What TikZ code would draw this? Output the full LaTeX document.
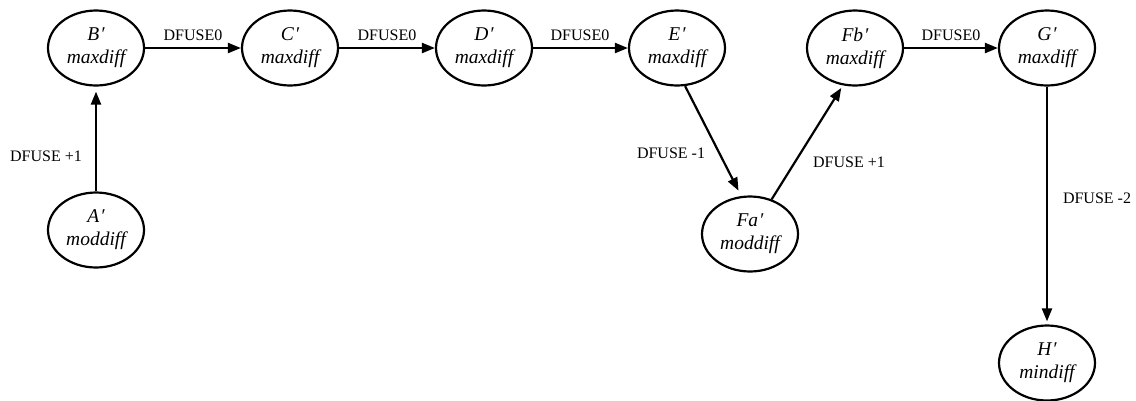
\documentclass[tikz,border=0pt]{standalone}
\usepackage{fontspec}
\setmainfont{Liberation Serif}
\usetikzlibrary{shapes.geometric,arrows.meta}

\newcommand{\pr}{\kern1pt′}

\tikzset{
  state/.style={ellipse, draw, line width=2.2pt, minimum width=96pt,
    minimum height=75pt, inner sep=0pt, align=center,
    font=\fontsize{19.5}{23}\selectfont\itshape},
  edgelbl/.style={font=\fontsize{16}{18}\selectfont, inner sep=0pt},
  link/.style={line width=2.2pt, -{Triangle[length=13pt,width=10pt]}},
}

\begin{document}
\begin{tikzpicture}[x=1pt, y=-1pt]
  \useasboundingbox (0,0) rectangle (1136,400);

  % states
  \node[state] (B)  at (96,48)    {B\pr\\maxdiff};
  \node[state] (C)  at (290,48)   {C\pr\\maxdiff};
  \node[state] (D)  at (484,48)   {D\pr\\maxdiff};
  \node[state] (E)  at (677,48)   {E\pr\\maxdiff};
  \node[state] (Fb) at (855,48)   {Fb\pr\\maxdiff};
  \node[state] (G)  at (1047,48)  {G\pr\\maxdiff};
  \node[state] (A)  at (96,230)   {A\pr\\moddiff};
  \node[state] (Fa) at (750,234)  {Fa\pr\\moddiff};
  \node[state] (H)  at (1047,363) {H\pr\\mindiff};

  % transitions
  \draw[link, shorten >=5pt] (A) -- (B);
  \draw[link] (B) -- (C);
  \draw[link] (C) -- (D);
  \draw[link] (D) -- (E);
  \draw[link, shorten >=6pt] (E.-78) -- (Fa.103);
  \draw[link, shorten >=3pt] (Fa.58) -- (Fb.-108);
  \draw[link] (Fb) -- (G);
  \draw[link, shorten >=3pt] (G) -- (H);

  % transition labels
  \node[edgelbl] (lAB)  at (46,156)   {DFUSE +1};
  \node[edgelbl] (lBC)  at (193,35)   {DFUSE0};
  \node[edgelbl] (lCD)  at (387,35)   {DFUSE0};
  \node[edgelbl] (lDE)  at (580,35)   {DFUSE0};
  \node[edgelbl] (lEF)  at (671,153)  {DFUSE -1};
  \node[edgelbl] (lFF)  at (849,162)  {DFUSE +1};
  \node[edgelbl] (lFG)  at (951,35)   {DFUSE0};
  \node[edgelbl] (lGH)  at (1097,198) {DFUSE -2};
\end{tikzpicture}
\end{document}
